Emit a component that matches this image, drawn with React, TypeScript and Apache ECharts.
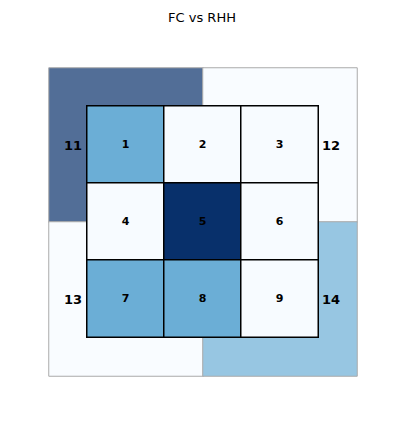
import React, { useEffect, useRef } from "react";
import * as echarts from "echarts";

const title = "FC vs RHH";
const outerCols = ["c0", "c1"];
const outerRows = ["r0", "r1"];
const outerLabels = ["11", "12", "13", "14"];
const outerValues = [2, 0, 0, 1];
const innerCols = ["c0", "c1", "c2"];
const innerRows = ["r0", "r1", "r2"];
const innerLabels = ["1", "2", "3", "4", "5", "6", "7", "8", "9"];
const innerValues = [1, 0, 0, 0, 2, 0, 1, 1, 0];
const blues = ["#f7fbff", "#deebf7", "#c6dbef", "#9ecae1", "#6baed6", "#4292c6", "#2171b5", "#08519c", "#08306b"];

function fade(hex: string, a: number) {
  const n = parseInt(hex.slice(1), 16);
  const ch = [(n >> 16) & 255, (n >> 8) & 255, n & 255].map((c) => Math.round(c * a + 255 * (1 - a)));
  return `rgb(${ch.join(",")})`;
}

export default function App() {
  const ref = useRef<HTMLDivElement>(null);
  useEffect(() => {
    const chart = echarts.init(ref.current!, null, { renderer: "svg" });
    const font = "'DejaVu Sans', sans-serif";
    const outerData = outerValues.map((v, i) => {
      const c = i % 2;
      const r = Math.floor(i / 2);
      return {
        value: [c, r, v],
        name: outerLabels[i],
        label: { offset: [c === 0 ? -53 : 51, 0] },
      };
    });
    const innerData = innerValues.map((v, i) => ({
      value: [i % 3, Math.floor(i / 3), v],
      name: innerLabels[i],
    }));
    const hiddenAxis = { show: false };
    chart.setOption({
      animation: false,
      backgroundColor: "#fff",
      title: {
        text: title,
        left: "center",
        top: 6,
        textStyle: { fontFamily: font, fontSize: 13, fontWeight: "normal", color: "#000" },
      },
      grid: [
        { left: 49, top: 68, width: 308, height: 308 },
        { left: 87, top: 106, width: 231, height: 231 },
      ],
      xAxis: [
        { type: "category", data: outerCols, gridIndex: 0, ...hiddenAxis },
        { type: "category", data: innerCols, gridIndex: 1, ...hiddenAxis },
      ],
      yAxis: [
        { type: "category", data: outerRows, gridIndex: 0, inverse: true, ...hiddenAxis },
        { type: "category", data: innerRows, gridIndex: 1, inverse: true, ...hiddenAxis },
      ],
      visualMap: [
        { show: false, seriesIndex: 0, min: 0, max: 2, dimension: 2, inRange: { color: blues.map((c) => fade(c, 0.7)) } },
        { show: false, seriesIndex: 1, min: 0, max: 2, dimension: 2, inRange: { color: blues } },
      ],
      series: [
        {
          type: "heatmap",
          xAxisIndex: 0,
          yAxisIndex: 0,
          data: outerData,
          itemStyle: { borderColor: "#aaa", borderWidth: 1 },
          label: {
            show: true,
            formatter: (p: any) => p.name,
            fontFamily: font,
            fontSize: 13,
            fontWeight: "bold",
            color: "#000",
          },
          emphasis: { disabled: true },
        },
        {
          type: "heatmap",
          xAxisIndex: 1,
          yAxisIndex: 1,
          data: innerData,
          itemStyle: { borderColor: "#000", borderWidth: 1.5 },
          label: {
            show: true,
            formatter: (p: any) => p.name,
            fontFamily: font,
            fontSize: 11,
            fontWeight: "bold",
            color: "#000",
          },
          emphasis: { disabled: true },
        },
      ],
    });
    return () => chart.dispose();
  }, []);
  return <div ref={ref} style={{ width: 404, height: 424, margin: -8 }} />;
}
